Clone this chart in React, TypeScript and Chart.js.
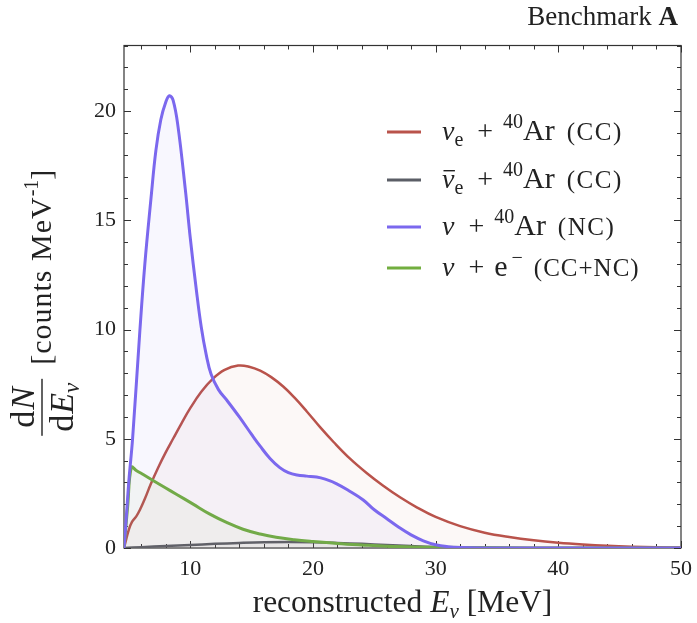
import React, { useEffect, useRef } from "react";
import { Chart, registerables } from "chart.js";

Chart.register(...registerables);

// Reconstructed-energy spectra (counts per MeV) for the four detection channels.
const nueCCEnergy = [4.6, 5.0, 5.25, 5.6, 5.9, 6.3, 6.8, 7.4, 8.0, 8.6, 9.3, 10.0, 10.9, 11.85, 12.8, 13.9, 14.8, 15.7, 16.6, 17.6, 18.5, 19.5, 20.6, 21.7, 23.0, 24.4, 25.7, 27.1, 28.5, 30.0, 32.0, 34.0, 36.0, 38.0, 40.0, 42.0, 44.0, 46.0, 48.0, 50.0];
const nueCCCounts = [0, 0.85, 1.2, 1.45, 1.75, 2.25, 2.95, 3.7, 4.38, 5.0, 5.72, 6.4, 7.15, 7.75, 8.15, 8.35, 8.3, 8.12, 7.82, 7.38, 6.88, 6.25, 5.52, 4.84, 4.1, 3.42, 2.86, 2.32, 1.85, 1.42, 1.0, 0.7, 0.5, 0.35, 0.24, 0.16, 0.1, 0.06, 0.035, 0.02];

const nuebarCCEnergy = [4.6, 6, 8, 10, 12, 14, 16, 18, 20, 22, 24, 26, 28, 30, 32, 35, 40, 50];
const nuebarCCCounts = [0, 0.04, 0.09, 0.14, 0.19, 0.23, 0.26, 0.27, 0.26, 0.23, 0.19, 0.14, 0.09, 0.05, 0.03, 0.01, 0, 0];

const ncEnergy = [4.6, 4.8, 5.0, 5.3, 5.9, 6.3, 6.8, 7.2, 7.6, 8.0, 8.3, 8.6, 9.0, 9.6, 10.0, 10.5, 10.9, 11.3, 11.7, 12.3, 13.0, 14.0, 15.0, 15.7, 16.5, 17.3, 18.0, 18.7, 19.5, 20.3, 21.0, 21.9, 23.0, 24.1, 25.0, 26.0, 27.0, 28.0, 29.0, 30.0, 31.0, 32.0, 34.0, 50.0];
const ncCounts = [0, 1.5, 3.1, 5.0, 10.0, 13.0, 16.0, 18.2, 19.6, 20.4, 20.7, 20.5, 19.3, 16.4, 14.2, 11.8, 10.1, 8.85, 7.95, 7.25, 6.75, 6.0, 5.2, 4.66, 4.1, 3.68, 3.45, 3.34, 3.29, 3.25, 3.15, 2.95, 2.6, 2.2, 1.75, 1.35, 0.95, 0.6, 0.33, 0.15, 0.06, 0.02, 0, 0];

const esEnergy = [4.6, 4.9, 5.2, 5.6, 6.2, 7.0, 7.9, 8.9, 10.2, 11.6, 13.0, 14.3, 15.7, 17.0, 18.5, 20.0, 22.0, 24.0, 26.0, 28.0, 30.0, 35.0, 40.0, 50.0];
const esCounts = [0, 1.9, 3.7, 3.55, 3.35, 3.08, 2.78, 2.45, 2.02, 1.55, 1.16, 0.86, 0.64, 0.49, 0.38, 0.3, 0.21, 0.14, 0.08, 0.05, 0.03, 0.01, 0, 0];

// Axis ranges and labelled ticks
const X_MIN = 4.6;
const X_MAX = 50;
const Y_MIN = 0;
const Y_MAX = 23;
const xTickValues = [10, 20, 30, 40, 50];
const yTickValues = [0, 5, 10, 15, 20];
const X_MINOR_STEP = 2;
const Y_MINOR_STEP = 1;

const RED = "#b9534b";
const GRAY = "#5b5e66";
const PURPLE = "#7b68ee";
const GREEN = "#72ae3f";

const SERIF = '"Liberation Serif", "Times New Roman", serif';
const INK = "#222222";
const FRAME = "#333333";

const font = (size: number, style = "") => `${style} ${size}px ${SERIF}`.trim();

type Run = { text?: string; font?: string; dy?: number; gap?: number; overbar?: boolean; ls?: number };

function runWidth(ctx: CanvasRenderingContext2D, r: Run) {
  ctx.font = r.font as string;
  (ctx as any).letterSpacing = `${r.ls || 0}px`;
  const w = ctx.measureText(r.text as string).width;
  (ctx as any).letterSpacing = "0px";
  return w;
}

function measureRuns(ctx: CanvasRenderingContext2D, runs: Run[]) {
  let w = 0;
  for (const r of runs) w += r.gap ? r.gap : runWidth(ctx, r);
  return w;
}

function drawRuns(ctx: CanvasRenderingContext2D, x: number, y: number, runs: Run[]) {
  ctx.textAlign = "left";
  ctx.textBaseline = "alphabetic";
  let cx = x;
  for (const r of runs) {
    if (r.gap) {
      cx += r.gap;
      continue;
    }
    const w = runWidth(ctx, r);
    ctx.font = r.font as string;
    (ctx as any).letterSpacing = `${r.ls || 0}px`;
    ctx.fillText(r.text as string, cx, y + (r.dy || 0));
    (ctx as any).letterSpacing = "0px";
    if (r.overbar) {
      ctx.fillRect(cx + 1.5, y - 18, w - 1, 1.4);
    }
    cx += w;
  }
  return cx - x;
}

const toPoints = (xs: number[], ys: number[]) => xs.map((x, i) => ({ x, y: ys[i] }));

const NU = font(28, "italic");
const BIG = font(30);
const PLUS = font(28);
const SUP = font(20);
const SMALL = font(25);

// Legend rows: line colour and rich-text runs
const legendRows: { color: string; y: number; runs: Run[] }[] = [
  {
    color: RED,
    y: 132,
    runs: [
      { text: "ν", font: NU },
      { text: "e", font: SUP, dy: 6 },
      { gap: 14 },
      { text: "+", font: PLUS },
      { gap: 10 },
      { text: "40", font: SUP, dy: -12 },
      { text: "Ar", font: BIG },
      { gap: 12 },
      { text: "(CC)", font: SMALL, ls: 1.5 },
    ],
  },
  {
    color: GRAY,
    y: 180,
    runs: [
      { text: "ν", font: NU, overbar: true },
      { text: "e", font: SUP, dy: 6 },
      { gap: 14 },
      { text: "+", font: PLUS },
      { gap: 10 },
      { text: "40", font: SUP, dy: -12 },
      { text: "Ar", font: BIG },
      { gap: 12 },
      { text: "(CC)", font: SMALL, ls: 1.5 },
    ],
  },
  {
    color: PURPLE,
    y: 227,
    runs: [
      { text: "ν", font: NU },
      { gap: 14 },
      { text: "+", font: PLUS },
      { gap: 10 },
      { text: "40", font: SUP, dy: -12 },
      { text: "Ar", font: BIG },
      { gap: 12 },
      { text: "(NC)", font: SMALL, ls: 1.5 },
    ],
  },
  {
    color: GREEN,
    y: 268,
    runs: [
      { text: "ν", font: NU },
      { gap: 14 },
      { text: "+", font: PLUS },
      { gap: 10 },
      { text: "e", font: BIG },
      { gap: 4 },
      { text: "−", font: SUP, dy: -12 },
      { gap: 11 },
      { text: "(CC+NC)", font: SMALL, ls: 1 },
    ],
  },
];

// Closed frame with inward-pointing major and minor ticks on all four sides
const framePlugin = {
  id: "frameTicks",
  beforeDatasetsDraw(chart: any) {
    const { ctx, chartArea, scales } = chart;
    const { left, right, top, bottom } = chartArea;
    const xs = scales.x;
    const ys = scales.y;
    ctx.save();
    ctx.strokeStyle = FRAME;
    ctx.lineWidth = 1.2;
    ctx.strokeRect(left, top, right - left, bottom - top);
    ctx.lineWidth = 1;
    ctx.beginPath();
    for (let v = Math.ceil(X_MIN / X_MINOR_STEP) * X_MINOR_STEP; v <= X_MAX; v += X_MINOR_STEP) {
      const px = Math.round(xs.getPixelForValue(v)) + 0.5;
      const len = xTickValues.includes(v) ? 7 : 4;
      ctx.moveTo(px, bottom);
      ctx.lineTo(px, bottom - len);
      ctx.moveTo(px, top);
      ctx.lineTo(px, top + len);
    }
    for (let v = Y_MIN; v <= Y_MAX; v += Y_MINOR_STEP) {
      const py = Math.round(ys.getPixelForValue(v)) + 0.5;
      const len = yTickValues.includes(v) ? 7 : 4;
      ctx.moveTo(left, py);
      ctx.lineTo(left + len, py);
      ctx.moveTo(right, py);
      ctx.lineTo(right - len, py);
    }
    ctx.stroke();
    ctx.restore();
  },
};

// Title, axis titles and legend
const textPlugin = {
  id: "richText",
  afterDraw(chart: any) {
    const { ctx, chartArea } = chart;
    const { left, right, top, bottom } = chartArea;
    ctx.save();
    ctx.fillStyle = INK;

    // Title in the top-right corner
    const title: Run[] = [
      { text: "Benchmark ", font: font(27) },
      { text: "A", font: font(27, "bold") },
    ];
    const tw = measureRuns(ctx, title);
    drawRuns(ctx, 678 - tw, 25, title);

    // x-axis title
    const xTitle: Run[] = [
      { text: "reconstructed ", font: font(31.5) },
      { text: "E", font: font(31.5, "italic") },
      { text: "ν", font: font(21, "italic"), dy: 6 },
      { text: " [MeV]", font: font(31.5) },
    ];
    const xw = measureRuns(ctx, xTitle);
    drawRuns(ctx, (left + right) / 2 - xw / 2, 612, xTitle);

    // y-axis title: dN/dE_ν [counts MeV^-1], rotated
    ctx.save();
    ctx.translate(42, (top + bottom) / 2);
    ctx.rotate(-Math.PI / 2);
    const num: Run[] = [
      { text: "d", font: font(34) },
      { gap: 1 },
      { text: "N", font: font(34, "italic") },
    ];
    const den: Run[] = [
      { text: "d", font: font(34) },
      { gap: 1 },
      { text: "E", font: font(34, "italic") },
      { text: "ν", font: font(23, "italic"), dy: 6 },
    ];
    const unit: Run[] = [
      { text: "[counts MeV", font: font(30), ls: 1 },
      { text: "-1", font: font(20), dy: -13 },
      { text: "]", font: font(30) },
    ];
    const numW = measureRuns(ctx, num);
    const denW = measureRuns(ctx, den);
    const fracW = Math.max(numW, denW) + 8;
    const gap = 14;
    const unitW = measureRuns(ctx, unit);
    const total = fracW + gap + unitW;
    const x0 = -total / 2 - 6;
    ctx.fillRect(x0, -0.7, fracW, 1.4);
    drawRuns(ctx, x0 + (fracW - numW) / 2, -8, num);
    drawRuns(ctx, x0 + (fracW - denW) / 2, 31, den);
    drawRuns(ctx, x0 + fracW + gap, 9, unit);
    ctx.restore();

    // Legend
    for (const row of legendRows) {
      ctx.strokeStyle = row.color;
      ctx.lineWidth = 3;
      ctx.beginPath();
      ctx.moveTo(387, row.y);
      ctx.lineTo(421, row.y);
      ctx.stroke();
      ctx.fillStyle = INK;
      drawRuns(ctx, 442, row.y + 8, row.runs);
    }
    ctx.restore();
  },
};

export default function App() {
  const canvasRef = useRef<HTMLCanvasElement | null>(null);

  useEffect(() => {
    const canvas = canvasRef.current;
    if (!canvas) return;
    const common = {
      pointRadius: 0,
      fill: "origin",
      tension: 0.4,
    };
    const chart = new Chart(canvas, {
      type: "line",
      data: {
        datasets: [
          {
            ...common,
            label: "ν + 40Ar (NC)",
            data: toPoints(ncEnergy, ncCounts),
            borderColor: PURPLE,
            backgroundColor: "rgba(123,104,238,0.055)",
            borderWidth: 3,
            order: 0,
          },
          {
            ...common,
            label: "ν + e− (CC+NC)",
            data: toPoints(esEnergy, esCounts),
            borderColor: GREEN,
            backgroundColor: "rgba(114,174,63,0.05)",
            borderWidth: 3,
            order: 1,
          },
          {
            ...common,
            label: "νe + 40Ar (CC)",
            data: toPoints(nueCCEnergy, nueCCCounts),
            borderColor: RED,
            backgroundColor: "rgba(185,83,75,0.045)",
            borderWidth: 2.5,
            order: 2,
          },
          {
            ...common,
            label: "anti-νe + 40Ar (CC)",
            data: toPoints(nuebarCCEnergy, nuebarCCCounts),
            borderColor: GRAY,
            backgroundColor: "rgba(91,94,102,0.05)",
            borderWidth: 2.5,
            order: 3,
          },
        ],
      },
      options: {
        animation: false,
        responsive: false,
        maintainAspectRatio: false,
        layout: { padding: { top: 45.5, right: 16, bottom: 0, left: 0 } },
        plugins: {
          legend: { display: false },
          tooltip: { enabled: false },
        },
        scales: {
          x: {
            type: "linear",
            min: X_MIN,
            max: X_MAX,
            grid: { display: false, drawTicks: false },
            border: { display: false },
            ticks: { font: { family: SERIF, size: 22 }, color: INK, padding: 8 },
            afterBuildTicks: (s: any) => {
              s.ticks = xTickValues.map((v) => ({ value: v }));
            },
            afterFit: (s: any) => {
              s.height = 75;
              s.paddingLeft = 0;
              s.paddingRight = 0;
            },
          },
          y: {
            type: "linear",
            min: Y_MIN,
            max: Y_MAX,
            grid: { display: false, drawTicks: false },
            border: { display: false },
            ticks: { font: { family: SERIF, size: 22 }, color: INK, padding: 8 },
            afterBuildTicks: (s: any) => {
              s.ticks = yTickValues.map((v) => ({ value: v }));
            },
            afterFit: (s: any) => {
              s.width = 124;
              s.paddingTop = 0;
              s.paddingBottom = 0;
            },
          },
        },
      } as any,
      plugins: [framePlugin, textPlugin],
    });
    return () => chart.destroy();
  }, []);

  return (
    <div style={{ position: "fixed", left: 0, top: 0, width: 697, height: 623, background: "#ffffff" }}>
      <canvas ref={canvasRef} width={697} height={623} style={{ display: "block" }} />
    </div>
  );
}
